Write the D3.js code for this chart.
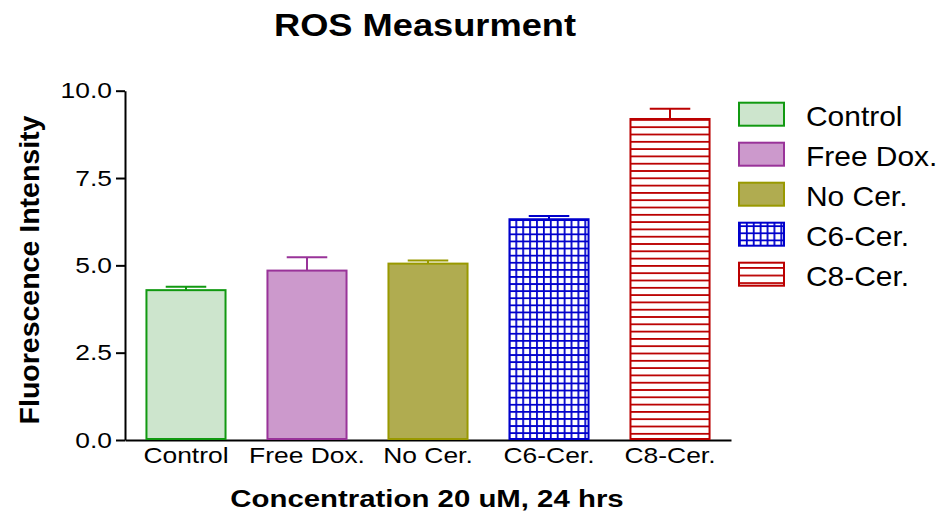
<!DOCTYPE html>
<html>
<head>
<meta charset="utf-8">
<script src="https://cdn.jsdelivr.net/npm/d3@7/dist/d3.min.js"></script>
<style>
  html, body { margin: 0; padding: 0; background: #fff; }
  svg { display: block; font-family: "Liberation Sans", Arial, sans-serif; }
</style>
</head>
<body>
<svg id="chart" width="943" height="514"></svg>
<script>
const categories = ["Control", "Free Dox.", "No Cer.", "C6-Cer.", "C8-Cer."];
const means = [4.29, 4.85, 5.05, 6.32, 9.19];
const errors = [0.10, 0.38, 0.09, 0.09, 0.29];
const yTicks = [0, 2.5, 5.0, 7.5, 10.0];
const fills = ["#cde5cd", "#cc99cc", "#b0ac50", "url(#grid)", "url(#hlines)"];
const strokes = ["#119911", "#993399", "#999900", "#0000cc", "#bb0000"];

const svg = d3.select("#chart");
const defs = svg.append("defs");

function stretch(sel, f) {
  sel.each(function () {
    const L = this.getComputedTextLength();
    d3.select(this).attr("textLength", L * f).attr("lengthAdjust", "spacingAndGlyphs");
  });
}

const x = d3.scaleBand().domain(categories).range([125, 731]).paddingInner(0.33).paddingOuter(0.169);
const y = d3.scaleLinear().domain([0, 10]).range([440, 90.7]);

function makeGrid(id, ox, oy) {
  const p = defs.append("pattern").attr("id", id).attr("patternUnits", "userSpaceOnUse")
    .attr("width", 6.9).attr("height", 7.1).attr("x", ox).attr("y", oy);
  p.append("rect").attr("width", 6.9).attr("height", 7.1).attr("fill", "#fff");
  p.append("rect").attr("width", 6.9).attr("height", 1.8).attr("fill", "#0000cc");
  p.append("rect").attr("width", 1.8).attr("height", 7.1).attr("fill", "#0000cc");
}
function makeLines(id, ox, oy, h) {
  const p = defs.append("pattern").attr("id", id).attr("patternUnits", "userSpaceOnUse")
    .attr("width", 10).attr("height", h).attr("x", ox).attr("y", oy);
  p.append("rect").attr("width", 10).attr("height", h).attr("fill", "#fff");
  p.append("rect").attr("width", 10).attr("height", 1.8).attr("fill", "#bb0000");
}
makeGrid("grid", x("C6-Cer."), y(means[3]));
makeLines("hlines", x("C8-Cer."), y(means[4]), 7.3);

// Title
svg.append("text").attr("x", 425).attr("y", 36).attr("text-anchor", "middle")
  .attr("font-size", 31.5).attr("font-weight", "bold").text("ROS Measurment")
  .call(stretch, 1.15);

// Y axis
const yAxis = svg.append("g").attr("transform", "translate(125,0)")
  .call(d3.axisLeft(y).tickValues(yTicks).tickFormat(d3.format(".1f")).tickSize(9).tickSizeOuter(0));
yAxis.select(".domain").attr("stroke", "#000").attr("stroke-width", 2);
yAxis.selectAll(".tick line").attr("stroke", "#000").attr("stroke-width", 2);
yAxis.selectAll(".tick text").attr("font-size", 22).attr("fill", "#000").attr("x", -13)
  .attr("font-family", "Liberation Sans, Arial, sans-serif").call(stretch, 1.2);

// X axis
const xAxis = svg.append("g").attr("transform", "translate(0,440)")
  .call(d3.axisBottom(x).tickSize(0).tickSizeOuter(0));
xAxis.select(".domain").attr("stroke", "#000").attr("stroke-width", 2);
xAxis.selectAll(".tick text").attr("font-size", 22).attr("fill", "#000").attr("dy", null).attr("y", 23)
  .attr("font-family", "Liberation Sans, Arial, sans-serif").call(stretch, 1.2);

// Bars
const data = categories.map((c, i) => ({ c, m: means[i], e: errors[i], fill: fills[i], stroke: strokes[i] }));
const bw = x.bandwidth();
svg.append("g").selectAll("rect").data(data).join("rect")
  .attr("x", d => x(d.c) + 1).attr("y", d => y(d.m))
  .attr("width", bw - 2).attr("height", d => y(0) - y(d.m) - 1)
  .attr("fill", d => d.fill).attr("stroke", d => d.stroke).attr("stroke-width", 2);

// Error bars (upper)
const eg = svg.append("g").selectAll("g").data(data).join("g");
eg.append("line")
  .attr("x1", d => x(d.c) + bw / 2).attr("x2", d => x(d.c) + bw / 2)
  .attr("y1", d => y(d.m)).attr("y2", d => y(d.m + d.e))
  .attr("stroke", d => d.stroke).attr("stroke-width", 2);
eg.append("line")
  .attr("x1", d => x(d.c) + bw / 4).attr("x2", d => x(d.c) + bw * 3 / 4)
  .attr("y1", d => y(d.m + d.e)).attr("y2", d => y(d.m + d.e))
  .attr("stroke", d => d.stroke).attr("stroke-width", 2);

// Axis titles
svg.append("text").attr("x", 427).attr("y", 507).attr("text-anchor", "middle")
  .attr("font-size", 23.5).attr("font-weight", "bold").text("Concentration 20 uM, 24 hrs")
  .call(stretch, 1.25);
svg.append("text").attr("transform", "translate(39,270) rotate(-90)").attr("text-anchor", "middle")
  .attr("font-size", 28.5).attr("font-weight", "bold").text("Fluorescence Intensity");

// Legend
const legTop = 102.7, legStep = 40;
makeGrid("gridL", 739, legTop + 3 * legStep);
makeLines("hlinesL", 739, legTop + 4 * legStep, 7.6);
const legFills = ["#cde5cd", "#cc99cc", "#b0ac50", "url(#gridL)", "url(#hlinesL)"];
const lg = svg.append("g").selectAll("g").data(data).join("g")
  .attr("transform", (d, i) => `translate(0,${legTop + i * legStep})`);
lg.append("rect").attr("x", 739).attr("y", 0).attr("width", 45).attr("height", 23)
  .attr("fill", (d, i) => legFills[i]).attr("stroke", d => d.stroke).attr("stroke-width", 2);
lg.append("text").attr("x", 806).attr("y", 23.5).attr("font-size", 28.5).attr("fill", "#000")
  .text(d => d.c).call(stretch, 1.05);
</script>
</body>
</html>
